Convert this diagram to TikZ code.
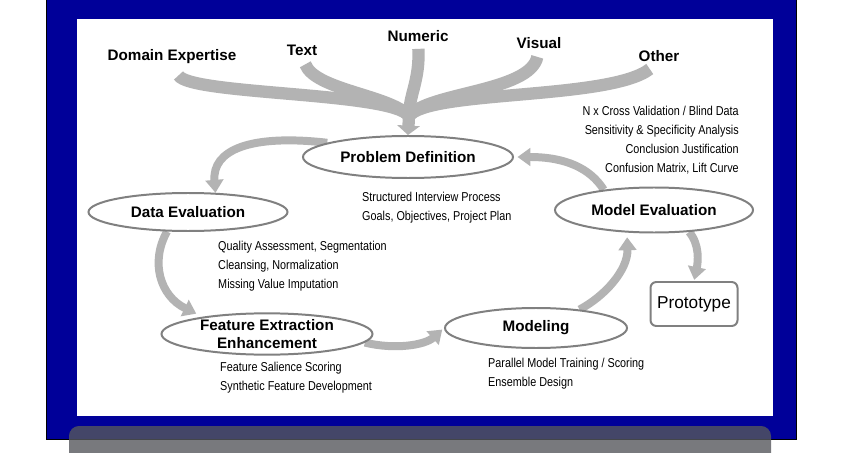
\documentclass[tikz,border=0pt]{standalone}
\usepackage{fontspec}
\setmainfont{Liberation Sans}
\newfontfamily\narrowfont[FakeStretch=0.84]{Liberation Sans}
\usetikzlibrary{shapes.geometric,arrows.meta,backgrounds}
\definecolor{FrameBlue}{RGB}{0,0,153}
\definecolor{ArrGray}  {RGB}{179,179,179}
\definecolor{EllLine}  {RGB}{128,128,128}
\definecolor{BarGray}  {RGB}{86,88,92}
\tikzset{
  nd_ell/.style={ellipse,draw=EllLine,line width=1.7pt,fill=white,inner sep=0pt,align=center,font=\fontsize{13}{15.4}\selectfont\bfseries},
  nd_box/.style={rectangle,rounded corners=5pt,draw=EllLine,line width=1.7pt,fill=white,inner sep=0pt,font=\fontsize{14.7}{17}\selectfont},
  nd_src/.style={inner sep=0pt,font=\fontsize{13}{15.4}\selectfont\bfseries},
  nd_note/.style={inner sep=0pt,font=\narrowfont\fontsize{11}{16.2}\selectfont},
  arr/.style={-{Triangle[width=15pt,length=11pt]},line width=6.8pt,draw=ArrGray},
  arr_feed/.style={line width=10.5pt,draw=ArrGray},
}

\begin{document}
\begin{tikzpicture}[x=0.03cm,y=0.03cm]
\useasboundingbox (0,0) rectangle (867,-453);
\begin{pgfonlayer}{background}
% frame
\fill[FrameBlue](46,0) rectangle (797,-440);
\draw[black,line width=1.3pt](46.5,0)--(46.5,-439.5)--(796.5,-439.5)--(796.5,0);
\fill[white](77,-19) rectangle (773,-416);
\fill[BarGray,opacity=0.8,rounded corners=8.5pt](69,-480) rectangle (771,-426);
\end{pgfonlayer}
% sources
\node[nd_src] at (172,-57)(DX){Domain Expertise};
\node[nd_src] at (302,-50)(TX){Text};
\node[nd_src] at (418,-36)(NU){Numeric};
\node[nd_src] at (539,-43)(VI){Visual};
\node[nd_src] at (659,-56)(OT){Other};
% stages
\node[nd_ell,minimum width=6.3cm,minimum height=1.26cm]  at (408,-157)(PD){Problem Definition};
\node[nd_ell,minimum width=5.97cm,minimum height=1.14cm] at (188,-212)(DE){Data Evaluation};
\node[nd_ell,minimum width=6.33cm,minimum height=1.2cm]  at (267,-334)(FE){Feature Extraction\\Enhancement};
\node[nd_ell,minimum width=5.46cm,minimum height=1.2cm]  at (536,-328)(MO){Modeling};
\node[nd_ell,minimum width=5.94cm,minimum height=1.35cm] at (654,-210)(ME){Model Evaluation};
\node[nd_box,minimum width=2.61cm,minimum height=1.32cm] at (694,-304)(PR){Prototype};
% notes
\node[nd_note,anchor=west,align=left] at (362,-207.5)(nPD){Structured Interview Process\\Goals, Objectives, Project Plan};
\node[nd_note,anchor=west,align=left] at (218,-266.5)(nDE){Quality Assessment, Segmentation\\Cleansing, Normalization\\Missing Value Imputation};
\node[nd_note,anchor=west,align=left] at (220,-377.5)(nFE){Feature Salience Scoring\\Synthetic Feature Development};
\node[nd_note,anchor=west,align=left] at (488,-374)(nMO){Parallel Model Training / Scoring\\Ensemble Design};
\node[nd_note,anchor=east,align=right] at (739,-140.5)(nME){N x Cross Validation / Blind Data\\Sensitivity \& Specificity Analysis\\Conclusion Justification\\Confusion Matrix, Lift Curve};
\begin{pgfonlayer}{background}
% feeds
\coordinate (J) at (409,-116);
\draw[arr_feed,shorten <=11pt](DX.south) .. controls (190,-95) and (392,-92) .. (J);
\draw[arr_feed,shorten <=8pt](TX.south) .. controls (315,-90) and (390,-95) .. (J);
\draw[arr_feed,shorten <=6pt](NU.south) .. controls (420,-80) and (409,-95) .. (J);
\draw[arr_feed,shorten <=7pt](VI.south) .. controls (530,-92) and (428,-92) .. (J);
\draw[arr_feed,shorten <=10pt](OT.south) .. controls (610,-100) and (430,-90) .. (J);
\draw[arr_feed,-{Triangle[width=19pt,length=8pt]}](J)--(PD.north);
% cycle
\draw[arr](PD.170) .. controls (250,-134) and (212,-150) .. (DE.35);
\draw[arr,shorten >=6pt](DE.223) .. controls (150,-262) and (160,-296) .. (FE.165);
\draw[arr,shorten >=2pt](FE.-5) .. controls (395,-350) and (425,-345) .. (MO.west);
\draw[arr,shorten >=4pt](MO.23) .. controls (605,-296) and (628,-270) .. (ME.220);
\draw[arr,shorten >=3pt](ME.158) .. controls (590,-168) and (565,-157) .. (PD.east);
\draw[arr,shorten >=1pt](ME.-32) .. controls (700,-245) and (698,-262) .. (PR.north);
\end{pgfonlayer}
\end{tikzpicture}
\end{document}
